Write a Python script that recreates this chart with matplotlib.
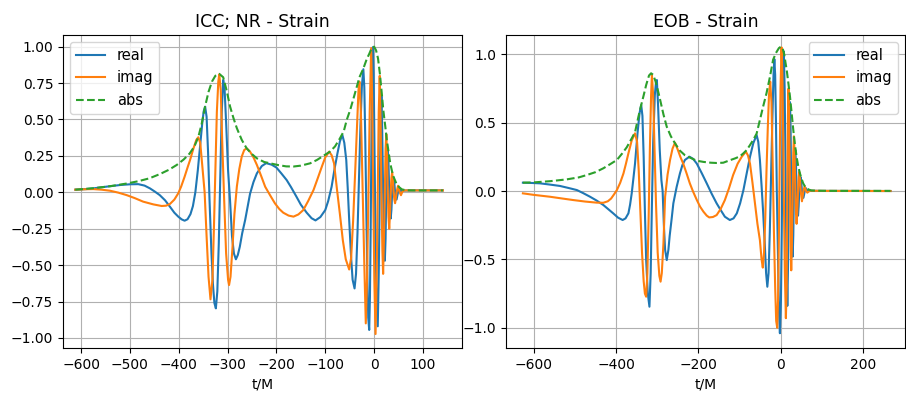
import numpy as np
import matplotlib
matplotlib.use("Agg")
import matplotlib.pyplot as plt

# ---- NR strain (left panel) ----
nr_t_real = [-612, -590, -575, -545, -520, -500, -483, -470, -459, -449, -439, -428, -418, -409, -401, -394,
             -388, -382, -376, -371, -366, -361, -356, -352, -349, -346, -343, -340, -337, -333, -330, -327,
             -324, -321, -318, -315, -312, -309, -306, -303, -299, -295, -291, -287, -283, -279, -275, -270,
             -264, -259, -254, -247, -240, -230, -221, -210, -200, -190, -179, -170, -159, -150, -138, -128,
             -120, -110, -100, -94, -87, -81, -75, -70, -65, -61, -57, -54, -51, -47, -44, -40, -37, -34,
             -31, -28, -25, -22, -20, -18, -16, -14, -12, -10, -8.5, -7, -5.5, -4, -2.5, -1, 0.5, 2.5, 4.5,
             7.5, 9.5, 11.5, 13.5, 15, 16.5, 18.5, 20.5, 22, 23.5, 25, 26.5, 28, 29.5, 31, 32.5, 34, 35.5,
             37, 38.5, 40, 41.5, 43, 46, 49, 52, 55, 60, 80, 141]
nr_real = [0.018, 0.022, 0.027, 0.040, 0.050, 0.055, 0.056, 0.046, 0.027, 0.005, -0.019, -0.055, -0.099,
           -0.140, -0.167, -0.186, -0.195, -0.185, -0.150, -0.095, 0.000, 0.150, 0.330, 0.470, 0.555, 0.588,
           0.520, 0.280, -0.050, -0.420, -0.630, -0.760, -0.797, -0.680, -0.350, 0.100, 0.550, 0.771, 0.700,
           0.480, 0.150, -0.053, -0.300, -0.420, -0.460, -0.430, -0.374, -0.280, -0.190, -0.100, -0.010,
           0.070, 0.130, 0.180, 0.200, 0.190, 0.170, 0.130, 0.084, 0.035, -0.030, -0.085, -0.140, -0.178,
           -0.193, -0.170, -0.122, -0.060, 0.038, 0.160, 0.268, 0.350, 0.394, 0.340, 0.222, 0.030, -0.190,
           -0.450, -0.600, -0.660, -0.560, -0.280, 0.080, 0.450, 0.730, 0.845, 0.720, 0.350, -0.100, -0.550,
           -0.860, -0.945, -0.720, -0.250, 0.320, 0.800, 0.996, 0.820, 0.400, -0.200, -0.650, -0.920, -0.560,
           0.000, 0.500, 0.660, 0.450, 0.000, -0.350, -0.470, -0.320, 0.000, 0.220, 0.300, 0.200, 0.000,
           -0.120, -0.180, -0.120, 0.000, 0.075, 0.100, 0.060, 0.000, -0.050, 0.000, 0.030, 0.008, 0.012,
           0.013, 0.013]

nr_t_imag = [-612, -590, -575, -558, -541, -524, -507, -490, -473, -452, -435, -426, -418, -409, -401, -395,
             -388, -382, -377, -370, -364, -360, -356, -352, -347, -343, -339, -335, -331, -328, -325, -322,
             -319, -317, -314, -311, -307, -303, -299, -297, -294, -290, -286, -281, -276, -271, -266, -261,
             -254, -247, -240, -231, -223, -213, -203, -194, -186, -175, -165, -155, -145, -135, -124, -115,
             -107, -100, -92, -87, -82, -76, -70, -64, -58, -51, -47, -43, -39, -35, -32, -30, -27, -24, -20,
             -17, -14.5, -12, -9, -6, -4, -2, 0.5, 3, 5.5, 7.5, 9.5, 11.5, 13.5, 15, 17, 18.5, 20, 22, 23.5,
             25, 26.5, 28, 29.5, 31, 32.5, 34, 35.5, 37, 38.5, 40, 41.5, 43, 44.5, 46, 49, 52, 55, 58, 62,
             80, 141]
nr_imag = [0.018, 0.021, 0.022, 0.018, 0.011, -0.002, -0.019, -0.040, -0.064, -0.083, -0.094, -0.092,
           -0.080, -0.050, -0.007, 0.040, 0.107, 0.170, 0.220, 0.300, 0.360, 0.378, 0.340, 0.190, 0.000,
           -0.300, -0.580, -0.735, -0.600, -0.250, 0.150, 0.550, 0.760, 0.810, 0.700, 0.350, -0.050, -0.420,
           -0.600, -0.637, -0.580, -0.380, -0.150, 0.040, 0.160, 0.245, 0.290, 0.302, 0.279, 0.240, 0.188,
           0.110, 0.038, -0.020, -0.076, -0.115, -0.140, -0.160, -0.167, -0.152, -0.122, -0.060, 0.016,
           0.100, 0.176, 0.240, 0.279, 0.255, 0.199, 0.020, -0.150, -0.330, -0.460, -0.530, -0.450, -0.200,
           0.120, 0.450, 0.700, 0.760, 0.550, 0.100, -0.500, -0.900, -0.600, -0.100, 0.550, 0.990, 0.650,
           0.050, -0.600, -0.973, -0.550, 0.000, 0.550, 0.800, 0.450, 0.000, -0.400, -0.560, -0.350, 0.000,
           0.300, 0.400, 0.250, 0.000, -0.170, -0.250, -0.150, 0.000, 0.100, 0.140, 0.080, 0.000, -0.050,
           -0.075, -0.040, 0.000, 0.045, 0.005, -0.020, 0.005, 0.013, 0.013, 0.013]

nr_t_abs = [-612, -575, -540, -507, -483, -460, -438, -420, -404, -390, -378, -368, -360, -353, -346, -339,
            -332, -325, -317, -309, -302, -295, -288, -281, -271, -261, -250, -240, -225, -213, -195, -180,
            -165, -150, -131, -117, -104, -90, -80, -70, -62, -56, -49, -40, -30, -22, -15, -10, -5, 0, 4,
            8, 12, 16, 19, 23, 26, 30, 33, 37, 40, 46, 52, 57, 65, 80, 141]
nr_abs = [0.018, 0.028, 0.042, 0.060, 0.076, 0.096, 0.126, 0.155, 0.188, 0.225, 0.265, 0.315, 0.378,
          0.470, 0.590, 0.690, 0.760, 0.800, 0.813, 0.790, 0.700, 0.590, 0.510, 0.440, 0.360, 0.302, 0.262,
          0.233, 0.208, 0.199, 0.186, 0.178, 0.177, 0.183, 0.199, 0.222, 0.250, 0.280, 0.315, 0.370, 0.420,
          0.497, 0.565, 0.670, 0.790, 0.850, 0.915, 0.950, 0.990, 1.000, 0.975, 0.920, 0.810, 0.670, 0.560,
          0.450, 0.360, 0.270, 0.200, 0.140, 0.105, 0.057, 0.033, 0.020, 0.014, 0.013, 0.013]

# ---- EOB strain (right panel) ----
eob_t_real = [-626, -605, -584, -560, -536, -515, -495, -480, -463, -447, -431, -418, -407, -395, -384,
              -377, -370, -366, -362, -358, -354, -348, -343, -339, -336, -333, -330, -327, -323, -319, -316,
              -313, -310, -306, -303, -301, -298, -294, -290, -287, -284, -281, -277, -273, -270, -265, -261,
              -253, -245, -239, -233, -222, -213, -204, -192, -180, -168, -156, -146, -136, -124, -115, -107,
              -99, -91, -83, -75, -67, -59, -55, -51, -47, -43, -39, -36, -33, -30, -27, -24, -21, -18, -16,
              -14, -12, -10, -7, -5, -2.5, 0, 2, 3.5, 5, 7, 9, 11, 13, 15.5, 17.5, 19, 20.5, 22, 23.5, 25,
              26.5, 28.5, 30, 31.5, 33, 35, 36.5, 38, 39.5, 41.5, 43, 44.5, 46, 48, 49.5, 51, 54.5, 58, 61,
              64, 70, 100, 266]
eob_real = [0.061, 0.059, 0.056, 0.047, 0.037, 0.022, 0.007, -0.015, -0.042, -0.070, -0.102, -0.135,
            -0.163, -0.195, -0.212, -0.200, -0.163, -0.100, -0.017, 0.090, 0.200, 0.420, 0.570, 0.629, 0.550,
            0.250, -0.150, -0.500, -0.750, -0.846, -0.600, -0.100, 0.350, 0.700, 0.800, 0.812, 0.620, 0.300,
            0.080, 0.000, -0.250, -0.430, -0.505, -0.430, -0.330, -0.200, -0.090, 0.030, 0.129, 0.190, 0.227,
            0.251, 0.235, 0.200, 0.130, 0.056, -0.020, -0.090, -0.140, -0.188, -0.212, -0.200, -0.163, -0.090,
            0.007, 0.130, 0.251, 0.350, 0.410, 0.360, 0.227, 0.040, -0.163, -0.400, -0.600, -0.700, -0.600,
            -0.300, 0.100, 0.500, 0.850, 0.965, 0.850, 0.500, 0.000, -0.500, -0.850, -1.040, -0.800, -0.300,
            0.200, 0.700, 1.020, 0.750, 0.200, -0.400, -0.840, -0.500, 0.000, 0.500, 0.650, 0.450, 0.000,
            -0.350, -0.480, -0.320, 0.000, 0.230, 0.300, 0.200, 0.000, -0.120, -0.180, -0.110, 0.000, 0.070,
            0.100, 0.060, 0.000, -0.050, 0.000, 0.020, 0.000, 0.002, 0.001, 0.000]

eob_t_imag = [-626, -600, -560, -530, -504, -475, -447, -431, -420, -412, -405, -398, -390, -382, -376,
              -370, -362, -354, -349, -345, -341, -337, -333, -330, -327, -324, -321, -318, -315, -313, -310,
              -307, -303, -299, -295, -292, -289, -285, -281, -275, -269, -263, -257, -250, -244, -237, -229,
              -221, -213, -204, -196, -188, -180, -174, -165, -156, -146, -136, -126, -116, -105, -95, -85,
              -80, -75, -69, -63, -57, -51, -47, -44, -41, -38, -35, -32, -29, -26, -23, -20, -17, -14, -11.5,
              -9, -7, -5, -3, -1, 1.5, 3.5, 5.5, 7.5, 9.5, 12, 14, 15.5, 17, 18.5, 20, 22, 23.5, 25, 26.5,
              28.5, 30, 31.5, 33, 35, 36.5, 38, 39.5, 41.5, 43, 44.5, 46, 48, 51, 54.5, 57.5, 61, 64, 70,
              100, 266]
eob_imag = [-0.017, -0.028, -0.042, -0.055, -0.066, -0.077, -0.085, -0.086, -0.075, -0.055, -0.025, 0.007,
            0.060, 0.129, 0.200, 0.276, 0.370, 0.422, 0.360, 0.150, -0.150, -0.450, -0.660, -0.750, -0.773,
            -0.600, -0.200, 0.300, 0.700, 0.849, 0.700, 0.350, -0.100, -0.450, -0.620, -0.663, -0.600, -0.380,
            -0.042, 0.120, 0.227, 0.310, 0.353, 0.300, 0.250, 0.200, 0.130, 0.056, -0.005, -0.066, -0.115,
            -0.151, -0.180, -0.193, -0.190, -0.176, -0.130, -0.066, 0.020, 0.117, 0.200, 0.251, 0.288, 0.260,
            0.200, 0.060, -0.090, -0.240, -0.360, -0.500, -0.560, -0.450, -0.200, 0.150, 0.450, 0.700, 0.800,
            0.650, 0.200, -0.300, -0.700, -0.950, -1.000, -0.800, -0.350, 0.200, 0.750, 1.050, 0.850, 0.400,
            -0.150, -0.600, -0.930, -0.700, 0.000, 0.550, 0.750, 0.500, 0.000, -0.400, -0.580, -0.400, 0.000,
            0.280, 0.400, 0.280, 0.000, -0.160, -0.240, -0.160, 0.000, 0.100, 0.140, 0.090, 0.000, -0.075,
            0.000, 0.035, 0.000, -0.012, 0.002, 0.001, 0.000]

eob_t_abs = [-626, -600, -560, -520, -490, -471, -450, -431, -415, -398, -385, -374, -362, -354, -346, -339,
             -333, -327, -320, -315, -310, -304, -298, -293, -285, -277, -267, -257, -245, -233, -221, -205,
             -188, -170, -156, -140, -124, -110, -99, -91, -83, -75, -67, -59, -51, -43, -35, -27, -19, -12,
             -5, 0, 4, 8, 11, 14, 18, 22, 26, 30, 34, 38, 42, 46, 50, 54, 58, 62, 68, 74, 90, 120, 266]
eob_abs = [0.061, 0.063, 0.072, 0.085, 0.100, 0.117, 0.138, 0.166, 0.195, 0.227, 0.275, 0.320, 0.385,
           0.430, 0.540, 0.629, 0.700, 0.775, 0.845, 0.861, 0.850, 0.800, 0.730, 0.666, 0.560, 0.470, 0.400,
           0.349, 0.295, 0.262, 0.245, 0.222, 0.213, 0.207, 0.205, 0.207, 0.225, 0.240, 0.255, 0.276, 0.300,
           0.336, 0.375, 0.420, 0.520, 0.620, 0.715, 0.830, 0.960, 1.010, 1.045, 1.056, 1.045, 1.000, 0.940,
           0.885, 0.790, 0.690, 0.570, 0.446, 0.340, 0.250, 0.180, 0.130, 0.090, 0.056, 0.035, 0.020, 0.010,
           0.004, 0.002, 0.001, 0.001]

W, H = 906, 393
fig = plt.figure(figsize=(W / 100, H / 100), dpi=100)
ax1 = fig.add_axes([63 / W, 45 / H, 399 / W, 313 / H])
ax2 = fig.add_axes([506 / W, 45 / H, 399 / W, 313 / H])

panels = [
    (ax1, "ICC; NR - Strain", nr_t_real, nr_real, nr_t_imag, nr_imag, nr_t_abs, nr_abs,
     (-637, 180), (-1.069, 1.080), "upper left"),
    (ax2, "EOB - Strain", eob_t_real, eob_real, eob_t_imag, eob_imag, eob_t_abs, eob_abs,
     (-667, 301), (-1.148, 1.141), "upper right"),
]

for ax, title, tr, re, ti, im, ta, ab, xl, yl, loc in panels:
    ax.plot(tr, re, color="C0", lw=1.5, label="real")
    ax.plot(ti, im, color="C1", lw=1.5, label="imag")
    ax.plot(ta, ab, color="C2", lw=1.5, ls="--", label="abs")
    ax.set_xlim(*xl)
    ax.set_ylim(*yl)
    ax.grid(True)
    ax.set_title(title, fontsize=12.5)
    ax.set_xlabel("t/M")
    ax.legend(loc=loc, fontsize=10.5)

fig.savefig("out.png", dpi=100)
